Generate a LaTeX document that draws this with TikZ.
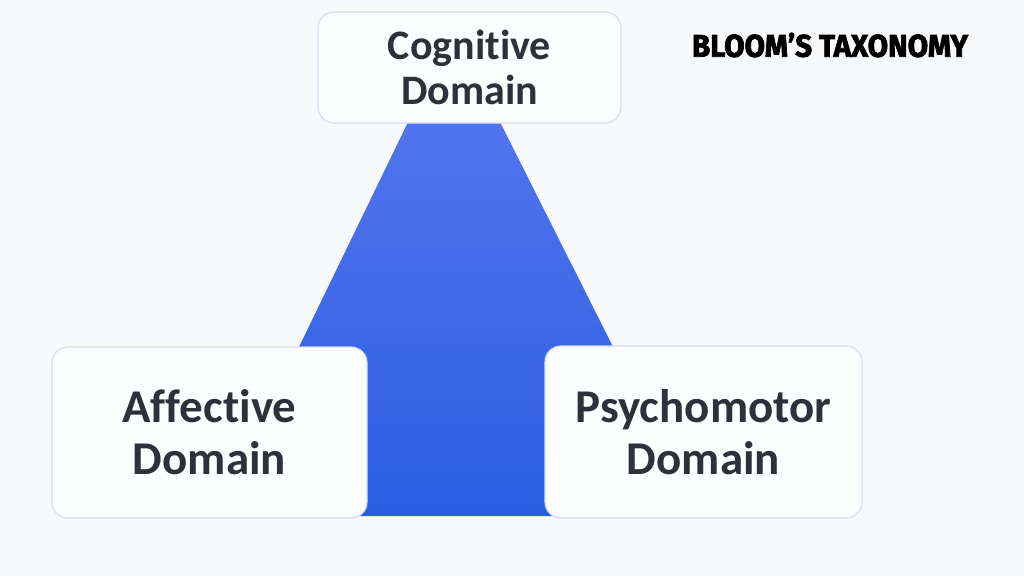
\documentclass[tikz,border=0pt]{standalone}
\usepackage{fontspec}
\setmainfont{Carlito}[Ligatures=NoCommon]
\newfontfamily\titlefont{Fira Sans}[FakeBold=2.5]
\definecolor{bgc}{HTML}{F8F9FB}
\definecolor{boxfill}{HTML}{FCFDFE}
\definecolor{boxline}{HTML}{D6DDF0}
\definecolor{txt}{HTML}{2E313C}
\definecolor{bluetop}{HTML}{5274EE}
\definecolor{bluemid}{HTML}{6488F5}
\definecolor{bluebot}{HTML}{2A5EE2}
\tikzset{
  domainbox/.style={draw=boxline, line width=1.2pt, fill=boxfill, rounded corners=16pt,
    align=center, text=txt, inner sep=0pt},
}
\begin{document}
\begin{tikzpicture}[x=1pt,y=-1pt]
\fill[bgc] (0,0) rectangle (1024,576);
\useasboundingbox (0,0) rectangle (1024,576);
% blue trapezoid
\coordinate (tl) at (410,118);
\coordinate (tr) at (498,118);
\coordinate (br) at (698,516);
\coordinate (bl) at (217,516);
\shade[top color=bluetop, middle color=bluemid, bottom color=bluebot]
  (tl) -- (tr) -- (br) -- (bl) -- cycle;
% boxes
\node[domainbox, minimum width=303pt, minimum height=111pt,
  font=\fontsize{42}{45}\selectfont\bfseries] (cog) at (469.5,67.5) {Cognitive\\Domain};
\node[domainbox, minimum width=315pt, minimum height=171pt,
  font=\fontsize{47}{52}\selectfont\bfseries] (aff) at (209.5,432.5) {Affective\\Domain};
\node[domainbox, minimum width=317pt, minimum height=172pt,
  font=\fontsize{47}{52}\selectfont\bfseries] (psy) at (703.5,432) {Psychomotor\\Domain};
% title
\node[inner sep=0pt, text=black] (title) at (830,45)
  {\resizebox{276pt}{24pt}{\titlefont\bfseries BLOOM’S TAXONOMY}};
\end{tikzpicture}
\end{document}
